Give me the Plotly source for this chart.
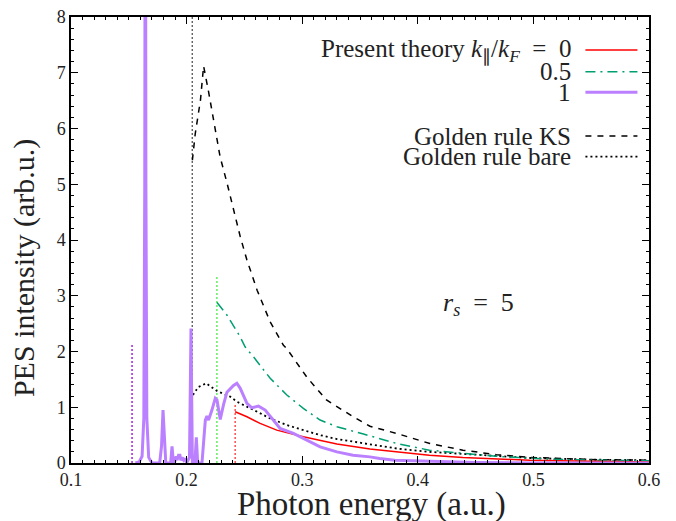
import plotly.graph_objects as go

# ---------------- data ----------------
# Golden rule KS (black dashed)
ks_x = [0.205, 0.2075, 0.212, 0.2147, 0.219, 0.2233, 0.229, 0.235, 0.2406, 0.2464, 0.2522, 0.261,
        0.2723, 0.2838, 0.2867, 0.304, 0.321, 0.344, 0.3586, 0.3817, 0.4104, 0.439, 0.468, 0.497,
        0.554, 0.6]
ks_y = [5.43, 5.91, 6.51, 7.12, 6.66, 6.15, 5.49, 5.02, 4.54, 4.06, 3.64, 3.10,
        2.53, 2.11, 2.05, 1.54, 1.13, 0.83, 0.66, 0.53, 0.35, 0.23, 0.15, 0.10,
        0.06, 0.05]

# Golden rule bare (black dotted)
bare_x = [0.2055, 0.210, 0.217, 0.2263, 0.2377, 0.2435, 0.258, 0.2723, 0.2867, 0.301, 0.3155,
          0.33, 0.3528, 0.3817, 0.41, 0.4537, 0.497, 0.55, 0.6]
bare_y = [1.22, 1.36, 1.43, 1.29, 1.19, 1.10, 0.95, 0.80, 0.68, 0.59, 0.50,
          0.43, 0.35, 0.26, 0.20, 0.14, 0.09, 0.06, 0.05]

# Present theory k/kF = 0 (red)
k0_x = [0.242, 0.2522, 0.2636, 0.278, 0.301, 0.33, 0.3586, 0.3817, 0.41, 0.439, 0.497, 0.55, 0.6]
k0_y = [0.92, 0.83, 0.71, 0.59, 0.47, 0.34, 0.25, 0.20, 0.14, 0.10, 0.05, 0.03, 0.02]

# Present theory k/kF = 0.5 (green dash-dot)
k05_x = [0.2263, 0.235, 0.2464, 0.2507, 0.258, 0.2723, 0.2867, 0.301, 0.3155, 0.33, 0.353,
         0.3817, 0.41, 0.439, 0.468, 0.511, 0.55, 0.6]
k05_y = [2.88, 2.65, 2.26, 2.08, 1.90, 1.52, 1.22, 0.98, 0.77, 0.65, 0.52,
         0.35, 0.23, 0.17, 0.12, 0.07, 0.05, 0.04]

# Present theory k/kF = 1 (purple)
k1_x = [0.1557, 0.159, 0.1615, 0.1630, 0.1638, 0.1643, 0.1648, 0.1656, 0.1672, 0.170,
        0.1767, 0.1783, 0.1796, 0.1809, 0.182, 0.1862, 0.1874, 0.1886, 0.1895,
        0.1910, 0.1918, 0.1930, 0.1942, 0.1950, 0.1962, 0.1975, 0.1988, 0.2000, 0.2025,
        0.2038, 0.2050, 0.2072, 0.2084, 0.2096, 0.2110, 0.2133, 0.2150, 0.2162, 0.2176,
        0.2190, 0.2219, 0.2248, 0.2263, 0.2291, 0.2320, 0.2349, 0.2406, 0.2435, 0.2464,
        0.2522, 0.2565, 0.2622, 0.2680, 0.2737, 0.2809, 0.2924, 0.304, 0.3155, 0.33,
        0.344, 0.3586, 0.367, 0.38, 0.396, 0.42, 0.45, 0.5, 0.55, 0.6]
k1_y = [0.0, 0.02, 0.12, 0.8, 5.0, 14.0, 5.0, 0.8, 0.1, 0.0,
        0.0, 0.3, 0.95, 0.3, 0.0, 0.0, 0.30, 0.0, 0.0,
        0.12, 0.05, 0.14, 0.14, 0.05, 0.10, 0.05, 0.08, 0.0, 0.1,
        2.41, 0.0, 0.0, 0.46, 0.0, 0.0, 0.0, 0.45, 0.77, 0.84,
        0.77, 0.95, 1.16, 1.13, 0.78, 1.05, 1.27, 1.39, 1.43, 1.34,
        1.07, 0.99, 1.02, 0.95, 0.80, 0.62, 0.53, 0.41, 0.29, 0.20,
        0.14, 0.11, 0.08, 0.05, 0.04, 0.02, 0.01, 0.0, 0.0, 0.0]

# thresholds (vertical dotted lines): x position and height
thr_x = [0.1528, 0.2049, 0.2262, 0.242]
thr_h = [2.14, 8.0, 3.37, 1.06]
thr_colors = ["#9400d3", "#555555", "#44ee44", "#ff3333"]

x_ticks = [0.1, 0.2, 0.3, 0.4, 0.5, 0.6]
x_tick_labels = ["0.1", "0.2", "0.3", "0.4", "0.5", "0.6"]
y_ticks = [0, 1, 2, 3, 4, 5, 6, 7, 8]

legend_labels = ["Present theory <i>k</i><sub>∥</sub>/<i>k</i><sub><i>F</i></sub>&#8194;=&#8194;0",
                 "0.5", "1", "Golden rule KS", "Golden rule bare"]

FONT = "Liberation Serif"
TXT = "#222222"

fig = go.Figure()

for xv, h, c in zip(thr_x, thr_h, thr_colors):
    fig.add_trace(go.Scatter(x=[xv, xv], y=[0, h], mode="lines",
                             line=dict(color=c, width=1.3, dash="2px,2px"),
                             showlegend=False, hoverinfo="skip"))

fig.add_trace(go.Scatter(x=ks_x, y=ks_y, mode="lines",
                         line=dict(color="black", width=1.5, dash="6px,6px"), showlegend=False))
fig.add_trace(go.Scatter(x=bare_x, y=bare_y, mode="lines",
                         line=dict(color="black", width=1.8, dash="2px,3px"), showlegend=False))
fig.add_trace(go.Scatter(x=k05_x, y=k05_y, mode="lines",
                         line=dict(color="#009e73", width=1.5, dash="10px,5px,2px,5px"), showlegend=False))
fig.add_trace(go.Scatter(x=k0_x, y=k0_y, mode="lines",
                         line=dict(color="#ff0000", width=1.5), showlegend=False))
fig.add_trace(go.Scatter(x=k1_x, y=k1_y, mode="lines",
                         line=dict(color="#bb80ff", width=3), showlegend=False))

# manual legend (text right-aligned, sample line to the right)
leg_rows = [0.926, 0.877, 0.831, 0.733, 0.687]
leg_styles = [dict(color="#ff0000", width=1.5),
              dict(color="#009e73", width=1.5, dash="10px,5px,2px,5px"),
              dict(color="#bb80ff", width=3),
              dict(color="black", width=1.5, dash="6px,6px"),
              dict(color="black", width=1.8, dash="2px,3px")]
annotations = []
shapes = []
for lab, yp, st in zip(legend_labels, leg_rows, leg_styles):
    annotations.append(dict(x=0.868, y=yp, xref="paper", yref="paper", text=lab,
                            showarrow=False, xanchor="right", yanchor="middle",
                            font=dict(family=FONT, size=25, color=TXT)))
    shapes.append(dict(type="line", xref="paper", yref="paper", x0=0.890, x1=0.980,
                       y0=yp, y1=yp, line=st))

annotations.append(dict(x=0.4528, y=2.86, xref="x", yref="y",
                        text="<i>r</i><sub><i>s</i></sub>&#8194;=&#8194;5", showarrow=False,
                        font=dict(family=FONT, size=26, color=TXT)))
annotations.append(dict(x=0.52, y=0, xref="paper", yref="paper", yshift=-41,
                        text="Photon energy (a.u.)", showarrow=False, yanchor="middle",
                        font=dict(family=FONT, size=33, color=TXT)))
annotations.append(dict(x=0, y=0.437, xref="paper", yref="paper", xshift=-47,
                        text="PES intensity (arb.u.)", showarrow=False, textangle=-90,
                        xanchor="center", yanchor="middle",
                        font=dict(family=FONT, size=30, color=TXT)))

# the page adds an 8px body margin, so the figure is 8px smaller and margins shifted
fig.update_layout(
    width=668, height=513,
    margin=dict(l=62.5, r=26.5, t=9, b=58.3, pad=0, autoexpand=False),
    plot_bgcolor="white", paper_bgcolor="white",
    showlegend=False,
    annotations=annotations, shapes=shapes,
    font=dict(family=FONT, size=18, color=TXT),
)
fig.update_xaxes(range=[0.1, 0.6], tickvals=x_ticks, ticktext=x_tick_labels, automargin=False,
                 ticklabeloverflow="allow",
                 ticks="inside", ticklen=7, tickwidth=1.2, tickcolor="black",
                 showline=True, linecolor="black", linewidth=1.5, mirror="ticks",
                 showgrid=False, zeroline=False,
                 minor=dict(dtick=0.01, ticks="inside", ticklen=3.5, tickcolor="black", tickwidth=1),
                 tickfont=dict(family=FONT, size=18, color=TXT))
fig.update_yaxes(range=[0, 8], tickvals=y_ticks, automargin=False,
                 ticklabeloverflow="allow",
                 ticks="inside", ticklen=7, tickwidth=1.2, tickcolor="black",
                 showline=True, linecolor="black", linewidth=1.5, mirror="ticks",
                 showgrid=False, zeroline=False,
                 minor=dict(dtick=0.2, ticks="inside", ticklen=3.5, tickcolor="black", tickwidth=1),
                 tickfont=dict(family=FONT, size=18, color=TXT))

fig.write_html("out.html")
